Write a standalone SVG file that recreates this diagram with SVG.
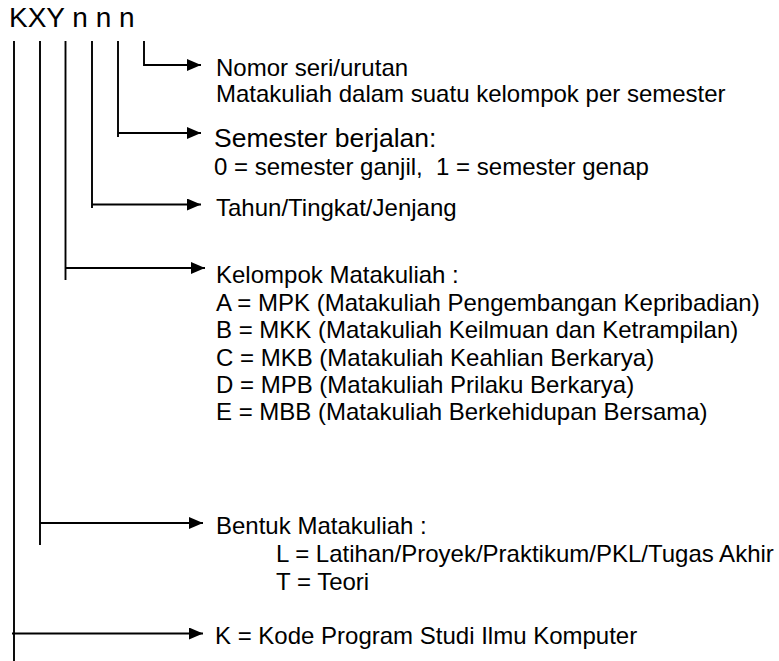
<svg xmlns="http://www.w3.org/2000/svg" width="779" height="661" viewBox="0 0 779 661">
<style>
  .ln { stroke: #000; stroke-width: 1.9; fill: none; }
  text { font-family: "Liberation Sans", Arial, sans-serif; fill: #000; white-space: pre; }
  .t { font-size: 24px; }
  .big { font-size: 26.5px; }
  .title { font-size: 28px; }
</style>
<defs>
  <marker id="ah" markerWidth="14" markerHeight="12" refX="14" refY="6" orient="auto" markerUnits="userSpaceOnUse">
    <path d="M0,0 L14,6 L0,12 Z" fill="#000"/>
  </marker>
</defs>
<rect width="779" height="661" fill="#fff"/>
<g id="title"><text class="title" x="9" y="27">KXY n n n</text></g>
<g id="connectors">
  <path class="ln" d="M144,41 V65 H201" marker-end="url(#ah)"/>
  <path class="ln" d="M118,41 V137"/>
  <path class="ln" d="M118,133 H201" marker-end="url(#ah)"/>
  <path class="ln" d="M92,41 V208"/>
  <path class="ln" d="M92,204.5 H201" marker-end="url(#ah)"/>
  <path class="ln" d="M65.5,41 V280"/>
  <path class="ln" d="M65.5,268 H205" marker-end="url(#ah)"/>
  <path class="ln" d="M40,41 V545"/>
  <path class="ln" d="M40,523 H203" marker-end="url(#ah)"/>
  <path class="ln" d="M14,41 V661"/>
  <path class="ln" d="M12,633.5 H203" marker-end="url(#ah)"/>
</g>
<g id="node-nomor">
  <text class="t" x="216" y="76">Nomor seri/urutan</text>
  <text class="t" x="216" y="102">Matakuliah dalam suatu kelompok per semester</text>
</g>
<g id="node-semester">
  <text class="big" x="214" y="147">Semester berjalan:</text>
  <text class="t" x="214" y="175">0 = semester ganjil,  1 = semester genap</text>
</g>
<g id="node-tahun">
  <text class="t" x="216" y="216">Tahun/Tingkat/Jenjang</text>
</g>
<g id="node-kelompok">
  <text class="t" x="216" y="283">Kelompok Matakuliah :</text>
  <text class="t" x="216" y="311">A = MPK (Matakuliah Pengembangan Kepribadian)</text>
  <text class="t" x="216" y="338">B = MKK (Matakuliah Keilmuan dan Ketrampilan)</text>
  <text class="t" x="216" y="366">C = MKB (Matakuliah Keahlian Berkarya)</text>
  <text class="t" x="216" y="393">D = MPB (Matakuliah Prilaku Berkarya)</text>
  <text class="t" x="216" y="420">E = MBB (Matakuliah Berkehidupan Bersama)</text>
</g>
<g id="node-bentuk">
  <text class="t" x="216" y="534">Bentuk Matakuliah :</text>
  <text class="t" x="276" y="562">L = Latihan/Proyek/Praktikum/PKL/Tugas Akhir</text>
  <text class="t" x="276" y="590">T = Teori</text>
</g>
<g id="node-kode">
  <text class="t" x="215" y="644">K = Kode Program Studi Ilmu Komputer</text>
</g>
</svg>
